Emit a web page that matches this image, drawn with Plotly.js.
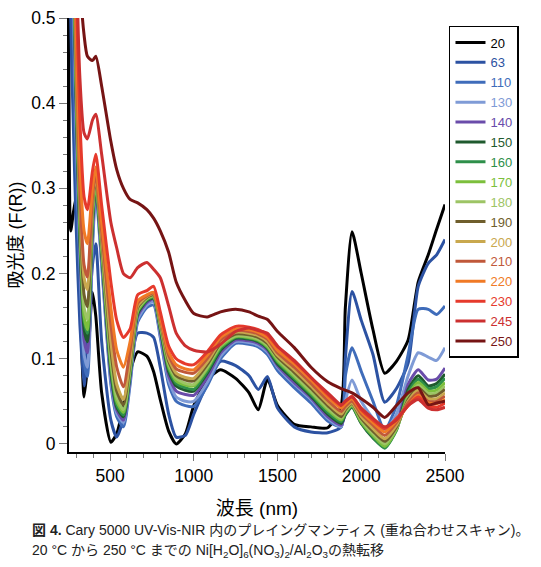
<!DOCTYPE html>
<html><head><meta charset="utf-8">
<script src="https://cdn.plot.ly/plotly-3.0.1.min.js"></script>
<style>body{margin:0;background:#fff}#chart{width:541px;height:567px}</style>
</head><body><div id="chart"></div>
<script>
const wavelength = [255, 265, 280, 297, 320, 345, 365, 395, 415, 450, 505, 540, 580, 620, 665, 720, 760, 800, 850, 895, 950, 1000, 1080, 1160, 1250, 1330, 1385, 1440, 1500, 1600, 1700, 1800, 1880, 1905, 1945, 2000, 2070, 2140, 2210, 2280, 2340, 2400, 2450, 2500];

const s20  = [0.9, 0.25, 0.27, 0.289, 0.175, 0.055, 0.09, 0.178, 0.15, 0.06, 0.002, 0.012, 0.045, 0.085, 0.108, 0.103, 0.085, 0.052, 0.015, 0.0, 0.012, 0.045, 0.075, 0.087, 0.077, 0.06, 0.04, 0.076, 0.045, 0.023, 0.02, 0.019, 0.045, 0.16, 0.249, 0.2, 0.134, 0.083, 0.097, 0.122, 0.19, 0.222, 0.252, 0.281];
const s63  = [0.9, 0.5, 0.38, 0.26, 0.14, 0.068, 0.12, 0.21, 0.235, 0.12, 0.028, 0.008, 0.03, 0.09, 0.13, 0.13, 0.125, 0.09, 0.035, 0.008, 0.01, 0.035, 0.07, 0.097, 0.092, 0.08, 0.064, 0.079, 0.042, 0.02, 0.014, 0.013, 0.02, 0.1, 0.179, 0.145, 0.105, 0.049, 0.065, 0.095, 0.185, 0.212, 0.222, 0.24];
const s110 = [0.9, 0.7, 0.5, 0.33, 0.2, 0.095, 0.079, 0.23, 0.295, 0.21, 0.07, 0.032, 0.02, 0.07, 0.143, 0.16, 0.163, 0.125, 0.07, 0.05, 0.045, 0.044, 0.068, 0.1, 0.118, 0.117, 0.114, 0.105, 0.086, 0.066, 0.048, 0.027, 0.02, 0.08, 0.113, 0.085, 0.05, 0.016, 0.045, 0.105, 0.158, 0.158, 0.152, 0.162];
const s130 = [0.9, 0.8, 0.55, 0.37, 0.22, 0.105, 0.09, 0.24, 0.3, 0.215, 0.075, 0.036, 0.025, 0.075, 0.146, 0.163, 0.167, 0.128, 0.075, 0.055, 0.05, 0.05, 0.072, 0.103, 0.12, 0.119, 0.116, 0.108, 0.09, 0.07, 0.052, 0.03, 0.02, 0.05, 0.075, 0.05, 0.03, 0.015, 0.035, 0.08, 0.107, 0.102, 0.098, 0.113];
const s140 = [0.9, 0.82, 0.57, 0.39, 0.23, 0.122, 0.107, 0.25, 0.302, 0.22, 0.08, 0.04, 0.028, 0.078, 0.15, 0.166, 0.17, 0.132, 0.08, 0.062, 0.058, 0.057, 0.078, 0.107, 0.122, 0.121, 0.118, 0.11, 0.092, 0.072, 0.054, 0.032, 0.022, 0.035, 0.045, 0.025, 0.01, 0.0, 0.022, 0.07, 0.087, 0.075, 0.076, 0.089];
const s150 = [0.9, 0.83, 0.59, 0.41, 0.24, 0.135, 0.12, 0.26, 0.305, 0.225, 0.085, 0.043, 0.032, 0.082, 0.153, 0.168, 0.171, 0.135, 0.085, 0.068, 0.063, 0.062, 0.083, 0.11, 0.124, 0.123, 0.12, 0.112, 0.094, 0.075, 0.056, 0.035, 0.024, 0.034, 0.043, 0.024, 0.007, -0.004, 0.017, 0.064, 0.08, 0.068, 0.071, 0.082];
const s160 = [0.9, 0.84, 0.6, 0.42, 0.25, 0.145, 0.13, 0.265, 0.306, 0.228, 0.09, 0.046, 0.034, 0.084, 0.155, 0.169, 0.172, 0.137, 0.088, 0.071, 0.066, 0.064, 0.085, 0.112, 0.125, 0.124, 0.121, 0.113, 0.096, 0.077, 0.058, 0.037, 0.026, 0.035, 0.044, 0.025, 0.008, -0.005, 0.016, 0.06, 0.076, 0.065, 0.067, 0.077];
const s170 = [0.9, 0.85, 0.62, 0.43, 0.26, 0.15, 0.134, 0.27, 0.308, 0.23, 0.095, 0.05, 0.037, 0.087, 0.156, 0.17, 0.173, 0.139, 0.091, 0.074, 0.069, 0.068, 0.088, 0.114, 0.126, 0.125, 0.122, 0.114, 0.098, 0.079, 0.06, 0.04, 0.028, 0.037, 0.045, 0.026, 0.01, -0.003, 0.017, 0.057, 0.072, 0.062, 0.063, 0.072];
const s180 = [0.9, 0.86, 0.64, 0.44, 0.27, 0.16, 0.146, 0.275, 0.31, 0.235, 0.1, 0.055, 0.04, 0.09, 0.158, 0.171, 0.174, 0.141, 0.094, 0.077, 0.071, 0.07, 0.09, 0.116, 0.127, 0.126, 0.123, 0.116, 0.1, 0.081, 0.062, 0.042, 0.03, 0.038, 0.046, 0.028, 0.012, 0.0, 0.018, 0.054, 0.069, 0.059, 0.06, 0.068];
const s190 = [0.9, 0.88, 0.66, 0.45, 0.28, 0.175, 0.161, 0.28, 0.312, 0.24, 0.11, 0.062, 0.046, 0.095, 0.16, 0.172, 0.175, 0.143, 0.097, 0.08, 0.075, 0.074, 0.093, 0.118, 0.129, 0.128, 0.125, 0.118, 0.102, 0.084, 0.065, 0.045, 0.032, 0.04, 0.047, 0.03, 0.015, 0.003, 0.02, 0.052, 0.066, 0.056, 0.057, 0.064];
const s200 = [0.9, 0.9, 0.68, 0.46, 0.29, 0.195, 0.181, 0.285, 0.315, 0.245, 0.12, 0.07, 0.052, 0.1, 0.162, 0.173, 0.176, 0.145, 0.1, 0.083, 0.078, 0.077, 0.096, 0.12, 0.131, 0.13, 0.127, 0.12, 0.104, 0.087, 0.068, 0.048, 0.035, 0.042, 0.048, 0.032, 0.018, 0.006, 0.022, 0.05, 0.063, 0.053, 0.053, 0.06];
const s210 = [0.9, 0.9, 0.7, 0.48, 0.3, 0.21, 0.196, 0.29, 0.318, 0.25, 0.14, 0.09, 0.067, 0.11, 0.165, 0.174, 0.177, 0.148, 0.104, 0.088, 0.084, 0.083, 0.1, 0.122, 0.133, 0.132, 0.129, 0.123, 0.107, 0.09, 0.071, 0.051, 0.038, 0.044, 0.05, 0.035, 0.022, 0.01, 0.025, 0.048, 0.06, 0.05, 0.05, 0.056];
const s220 = [0.9, 0.9, 0.75, 0.5, 0.33, 0.25, 0.235, 0.3, 0.325, 0.26, 0.16, 0.11, 0.09, 0.12, 0.168, 0.175, 0.178, 0.15, 0.108, 0.093, 0.088, 0.087, 0.104, 0.125, 0.135, 0.134, 0.131, 0.125, 0.11, 0.094, 0.075, 0.055, 0.042, 0.047, 0.053, 0.038, 0.025, 0.014, 0.027, 0.045, 0.057, 0.048, 0.047, 0.052];
const s230 = [0.9, 0.9, 0.9, 0.55, 0.38, 0.29, 0.275, 0.32, 0.34, 0.28, 0.19, 0.145, 0.125, 0.135, 0.175, 0.18, 0.185, 0.155, 0.115, 0.1, 0.094, 0.093, 0.108, 0.128, 0.138, 0.137, 0.134, 0.128, 0.114, 0.097, 0.078, 0.058, 0.045, 0.05, 0.056, 0.04, 0.028, 0.018, 0.03, 0.045, 0.055, 0.045, 0.043, 0.048];
const s245 = [0.9, 0.9, 0.9, 0.6, 0.43, 0.365, 0.358, 0.38, 0.387, 0.34, 0.26, 0.23, 0.2, 0.195, 0.207, 0.213, 0.205, 0.195, 0.162, 0.13, 0.115, 0.11, 0.108, 0.117, 0.132, 0.136, 0.133, 0.13, 0.115, 0.098, 0.078, 0.06, 0.046, 0.05, 0.055, 0.042, 0.03, 0.02, 0.028, 0.045, 0.052, 0.042, 0.04, 0.043];
const s250 = [0.9, 0.9, 0.9, 0.9, 0.55, 0.48, 0.455, 0.45, 0.455, 0.42, 0.355, 0.322, 0.3, 0.287, 0.283, 0.275, 0.265, 0.25, 0.225, 0.19, 0.168, 0.153, 0.149, 0.155, 0.158, 0.155, 0.15, 0.146, 0.132, 0.113, 0.09, 0.073, 0.065, 0.063, 0.06, 0.053, 0.043, 0.031, 0.045, 0.06, 0.066, 0.046, 0.048, 0.05];

const seriesLabels = ['20', '63', '110', '130', '140', '150', '160', '170', '180', '190', '200', '210', '220', '230', '245', '250'];
const seriesValues = [s20, s63, s110, s130, s140, s150, s160, s170, s180, s190, s200, s210, s220, s230, s245, s250];
const seriesColors = ['#000000', '#2c52a2', '#3f6cba', '#7f9bd6', '#6a4caa', '#1f5a2e', '#2e8f4a', '#7cbf3c', '#9dc465', '#6f5e2c', '#c9a84e', '#c0583a', '#f07a26', '#e63a2c', '#cc3030', '#761414'];

const traces = seriesLabels.map((lab, i) => ({
  x: wavelength,
  y: seriesValues[i],
  type: 'scatter',
  mode: 'lines',
  name: '<span style="color:' + seriesColors[i] + '">' + lab + '</span>',
  line: {color: seriesColors[i], width: 3, shape: 'spline', smoothing: 0.6},
  hoverinfo: 'skip'
}));

const captionFont = {family: 'Liberation Sans Narrow, Liberation Sans, Noto Sans CJK JP, sans-serif', size: 14, color: '#222'};

const layout = {
  width: 541, height: 567,
  margin: {l: 69, r: 96, t: 18, b: 115},
  paper_bgcolor: '#fff', plot_bgcolor: '#fff',
  font: {family: 'Liberation Sans, Arial, Noto Sans CJK JP, sans-serif', color: '#000'},
  showlegend: true,
  xaxis: {
    range: [255, 2500], tick0: 0, dtick: 500,
    ticks: 'outside', ticklen: 7, tickwidth: 1, tickcolor: '#777',
    showline: true, linecolor: '#000', linewidth: 2,
    showgrid: false, zeroline: false,
    tickfont: {size: 17.5},
    minor: {dtick: 100, ticks: 'outside', ticklen: 4, tickcolor: '#777', showgrid: false},
    title: {text: '波長 (nm)', font: {size: 19, family: 'Liberation Sans, Noto Sans CJK JP, sans-serif'}, standoff: 17}
  },
  yaxis: {
    range: [-0.0095, 0.5], tick0: 0, dtick: 0.1,
    ticks: 'outside', ticklen: 8, tickwidth: 1, tickcolor: '#777',
    showline: true, linecolor: '#000', linewidth: 2,
    showgrid: false, zeroline: false,
    tickfont: {size: 17.5},
    minor: {dtick: 0.02, ticks: 'outside', ticklen: 4, tickcolor: '#777', showgrid: false},
    title: {text: '吸光度 (F(R))', font: {size: 18, family: 'Liberation Sans, Noto Sans CJK JP, sans-serif'}, standoff: 4}
  },
  legend: {
    x: 1.0106, y: 0.9816, xanchor: 'left', yanchor: 'top',
    bordercolor: '#000', borderwidth: 1.5, bgcolor: '#fff',
    font: {size: 13}, tracegroupgap: 0
  },
  annotations: [
    {xref: 'paper', yref: 'paper', x: -0.1037, y: -0.1797, xanchor: 'left', yanchor: 'middle', showarrow: false, align: 'left',
     text: '<b>図 4.</b> Cary 5000 UV-Vis-NIR 内のプレイングマンティス (重ね合わせスキャン)。', font: captionFont},
    {xref: 'paper', yref: 'paper', x: -0.1037, y: -0.228, xanchor: 'left', yanchor: 'middle', showarrow: false, align: 'left',
     text: '20 °C から 250 °C までの Ni[H<sub>2</sub>O]<sub>6</sub>(NO<sub>3</sub>)<sub>2</sub>/Al<sub>2</sub>O<sub>3</sub>の熱転移', font: captionFont}
  ]
};

Plotly.newPlot('chart', traces, layout, {displayModeBar: false, staticPlot: true});
</script>
</body></html>
